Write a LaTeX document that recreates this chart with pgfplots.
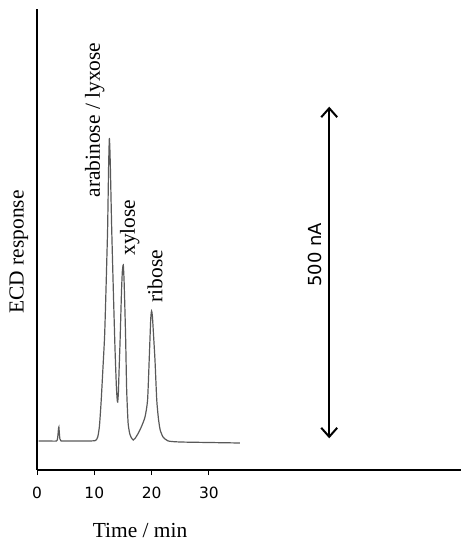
\documentclass[border=0pt]{standalone}
\usepackage{fontspec}
\setmainfont{Liberation Serif}
\setsansfont{DejaVu Sans}
\usepackage{pgfplots}
\pgfplotsset{compat=1.18}
\usetikzlibrary{arrows.meta}
\begin{document}
\begin{tikzpicture}
\useasboundingbox (0,0) rectangle (463bp,550bp);
\begin{axis}[
  at={(37bp,80bp)}, anchor=south west,
  scale only axis, width=424bp, height=461bp,
  xmin=0, xmax=74, ymin=-29, ymax=432,
  axis lines=left, axis line style={-, line width=1.2bp, black},
  xtick={0,10,20,30}, ytick=\empty,
  tick align=outside, major tick length=5bp,
  tick style={line width=1bp, black},
  /pgf/number format/assume math mode=true,
  xticklabel style={font=\sffamily\fontsize{15.5}{15.5}\selectfont, yshift=-8.5bp},
  xlabel={Time / min},
  xlabel style={font=\fontsize{21.5}{21.5}\selectfont, at={(axis description cs:0.243,-0.132)}, anchor=center},
  ylabel={ECD response},
  ylabel style={font=\fontsize{21.5}{21.5}\selectfont, at={(axis description cs:-0.043,0.473)}, anchor=center},
  clip=false,
]
\addplot[color=black!65, line width=1.2bp, smooth, tension=0.35] coordinates {
(0.3,0) (2.0,0) (3.4,0) (3.6,3) (3.75,12) (3.82,14) (3.9,8) (4.0,2) (4.2,0)
(6.0,0) (9.0,0) (10.2,0.5) (10.6,4) (10.9,15) (11.2,40) (11.5,72) (11.8,105)
(12.04,151) (12.2,185) (12.33,214) (12.5,275) (12.62,302) (12.7,295) (12.8,275)
(13.03,214) (13.32,151) (13.6,95) (13.85,55) (14.0,41) (14.08,39) (14.2,48)
(14.35,75) (14.5,100) (14.75,150) (14.9,170) (15.06,176) (15.2,160) (15.35,130)
(15.48,100) (15.65,51) (15.9,18) (16.2,7) (16.5,3) (16.8,1) (17.1,2.5) (17.6,7)
(18.2,14) (18.85,24) (19.3,41) (19.6,84) (19.85,122) (20.0,130) (20.15,124)
(20.4,100) (20.6,80) (20.9,41) (21.2,22) (21.5,11) (22.0,4) (22.9,0) (25,-1)
(30,-1.5) (35.4,-2)
};
\addplot[black, line width=2bp, {Straight Barb[length=9bp,width=16bp]}-{Straight Barb[length=9bp,width=16bp]}] coordinates {(51,2.7) (51,334.3)};
\node[rotate=90, font=\fontsize{21.5}{21.5}\selectfont] at (axis cs:10.1,321) {arabinose / lyxose};
\node[rotate=90, font=\fontsize{21.5}{21.5}\selectfont] at (axis cs:16.2,213.5) {xylose};
\node[rotate=90, font=\fontsize{21.5}{21.5}\selectfont] at (axis cs:20.6,165) {ribose};
\node[rotate=90, font=\sffamily\fontsize{18}{18}\selectfont] at (axis cs:48.5,186) {500 nA};
\end{axis}
\end{tikzpicture}
\end{document}
